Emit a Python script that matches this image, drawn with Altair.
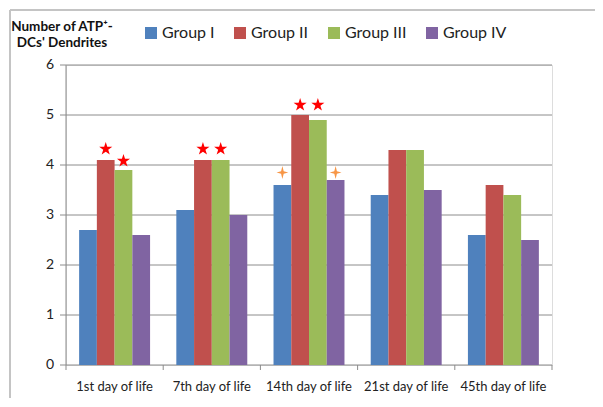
import altair as alt
import pandas as pd

days = ["1st day of life", "7th day of life", "14th day of life",
        "21st day of life", "45th day of life"]
groups = ["Group I", "Group II", "Group III", "Group IV"]
group_i = [2.7, 3.1, 3.6, 3.4, 2.6]
group_ii = [4.1, 4.1, 5.0, 4.3, 3.6]
group_iii = [3.9, 4.1, 4.9, 4.3, 3.4]
group_iv = [2.6, 3.0, 3.7, 3.5, 2.5]
colors = ["#4F81BD", "#C0504D", "#9BBB59", "#8064A2"]
y_ticks = [0, 1, 2, 3, 4, 5, 6]
y_title = ["Number of ATP\u207a-", "DCs' Dendrites"]
# category boundaries (one more than the number of categories)
edges = ["e0", "e1", "e2", "e3", "e4", "e5"]

# significance markers (red stars)
star_day = ["1st day of life", "1st day of life", "7th day of life",
            "7th day of life", "14th day of life", "14th day of life"]
star_group = ["Group II", "Group III", "Group II", "Group III", "Group II", "Group III"]
star_level = [4.32, 4.08, 4.32, 4.32, 5.2, 5.2]

# significance markers (orange sparkles)
spark_day = ["14th day of life", "14th day of life"]
spark_group = ["Group I", "Group IV"]
spark_level = [3.85, 3.85]

rows = []
for gname, vals in zip(groups, [group_i, group_ii, group_iii, group_iv]):
    for d, v in zip(days, vals):
        rows.append({"day": d, "group": gname, "value": v})
df = pd.DataFrame(rows)
stars = pd.DataFrame({"day": star_day, "group": star_group, "value": star_level})
sparks = pd.DataFrame({"day": spark_day, "group": spark_group, "value": spark_level})
day_df = pd.DataFrame({"day": days})
tick_df = pd.DataFrame({"value": y_ticks})
edge_df = pd.DataFrame({"edge": edges})

FONT = "Lato"
AXIS_GRAY = "#8c8c8c"
STAR = ("M0,-1L0.2245,-0.309L0.951,-0.309L0.363,0.118L0.588,0.809L0,0.382"
        "L-0.588,0.809L-0.363,0.118L-0.951,-0.309L-0.2245,-0.309Z")
SPARK = "M0,-1L0.2,-0.2L0.9,0L0.2,0.2L0,1L-0.2,0.2L-0.9,0L-0.2,-0.2Z"

band_scale = alt.Scale(domain=days, paddingInner=0.27, paddingOuter=0.135)
x_enc = alt.X("day:N", scale=band_scale, axis=None)
xo_enc = alt.XOffset("group:N", sort=groups,
                     scale=alt.Scale(domain=groups, paddingInner=0, paddingOuter=0))
y_scale = alt.Scale(domain=[0, 6], nice=False)
y_enc = alt.Y("value:Q", scale=y_scale, axis=None)

# horizontal grid lines
grid = alt.Chart(tick_df).mark_rule(color=AXIS_GRAY, strokeWidth=1).encode(
    y=y_enc, x=alt.value(0), x2=alt.value(486))

bars = alt.Chart(df).mark_bar().encode(
    x=x_enc,
    xOffset=xo_enc,
    y=y_enc,
    color=alt.Color("group:N", sort=groups,
                    scale=alt.Scale(domain=groups, range=colors),
                    legend=alt.Legend(title=None, orient="none", direction="horizontal",
                                      legendX=77, legendY=-40, symbolType="square",
                                      symbolSize=144, symbolStrokeWidth=0,
                                      symbolOpacity=1, labelFont=FONT, labelFontSize=16,
                                      labelColor="#222222", labelOffset=3,
                                      columnPadding=17, padding=0)),
)

star_layer = alt.Chart(stars).mark_point(shape=STAR, filled=True, size=190,
                                         color="#FF0000", opacity=1, strokeWidth=0).encode(
    x=x_enc, xOffset=xo_enc, y=y_enc)

spark_layer = alt.Chart(sparks).mark_point(shape=SPARK, filled=True, size=170,
                                           color="#F79646", opacity=1, strokeWidth=0).encode(
    x=x_enc, xOffset=xo_enc, y=y_enc)

# y axis: domain line, ticks, labels, title
y_domain = alt.Chart(pd.DataFrame({"a": [0]})).mark_rule(color=AXIS_GRAY, strokeWidth=1).encode(
    x=alt.value(0), y=alt.value(0), y2=alt.value(300))
y_tick_marks = alt.Chart(tick_df).mark_rule(color=AXIS_GRAY, strokeWidth=1).encode(
    y=y_enc, x=alt.value(-6), x2=alt.value(0))
y_labels = alt.Chart(tick_df).mark_text(font=FONT, fontSize=14, color="#222222",
                                        align="right", baseline="middle").encode(
    y=y_enc, x=alt.value(-12), text=alt.Text("value:Q", format="d"))
y_title_mark = alt.Chart(pd.DataFrame({"a": [0]})).mark_text(
    text=y_title, font=FONT, fontSize=13.5, fontWeight="bold", color="#111111",
    align="center", baseline="alphabetic", lineHeight=16).encode(
    x=alt.value(-4), y=alt.value(-34))

# category labels under the axis
labels = alt.Chart(day_df).mark_text(font=FONT, fontSize=13, color="#222222",
                                     baseline="middle").encode(
    x=x_enc, y=alt.value(322), text="day:N")

# short tick marks at category boundaries
x_ticks = alt.Chart(edge_df).mark_tick(orient="vertical", size=5, thickness=1,
                                       color=AXIS_GRAY, opacity=1).encode(
    x=alt.X("edge:N", sort=edges,
            scale=alt.Scale(type="point", domain=edges, padding=0), axis=None),
    y=alt.value(302.5))

one = pd.DataFrame({"a": [0]})
frame_left = alt.Chart(one).mark_rule(color="#c4c4c4", strokeWidth=2).encode(
    x=alt.value(-56), y=alt.value(-55), y2=alt.value(340))
frame_top = alt.Chart(one).mark_rule(color="#c4c4c4", strokeWidth=2).encode(
    x=alt.value(-56), x2=alt.value(540), y=alt.value(-55))

chart = alt.layer(grid, bars, star_layer, spark_layer, y_domain, y_tick_marks, y_labels,
                  y_title_mark, labels, x_ticks,
                  frame_left, frame_top).resolve_scale(x="independent").properties(
    width=486, height=300,
    padding={"left": 58, "top": 57, "right": 43, "bottom": 33},
    autosize="none",
).configure_view(strokeWidth=0).configure(background="white")

chart.save("out.html", embed_options={"renderer": "svg", "actions": False})
